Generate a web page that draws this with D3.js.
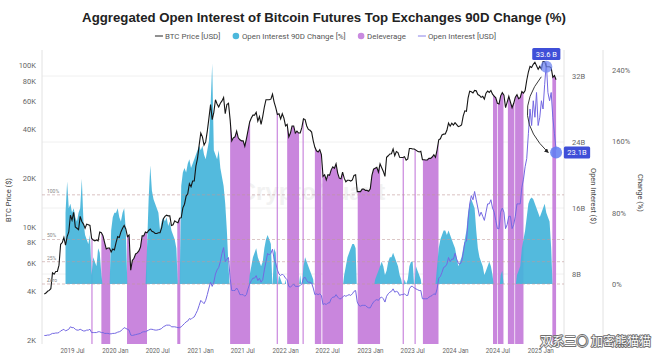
<!DOCTYPE html>
<html><head><meta charset="utf-8">
<script src="https://cdn.jsdelivr.net/npm/d3@7"></script>
<style>body{margin:0;background:#fff}svg{display:block}</style>
</head><body><svg id="c" width="660" height="359"></svg>
<script>
// ---------------- DATA ----------------
const startWeek = "2019-03-04"; // weekly series start (Mondays)
// BTC price, thousands USD, weekly
const btcPriceK = [
 // 2019 Mar..Dec
 3.85,3.9,4.0,4.05, 4.15,5.2,5.1,5.3,5.3, 5.8,7.8,8.0,8.6, 7.7,8.7,9.3,11.8, 11.0,12.3,10.0,9.8,9.6,
 11.6,10.8,10.4,9.8, 10.4,10.3,10.2,8.5,8.3, 8.2,8.3,8.2,9.3, 9.2,8.8,8.0,7.3, 7.4,7.4,7.0,7.3,7.2,
 // 2020
 8.0,8.7,8.6,9.3, 9.8,10.2,9.7,8.7, 8.9,5.4,6.2,6.4,6.8, 6.9,7.1,7.5,8.8, 8.8,9.3,9.2,9.5, 9.7,9.4,9.3,9.1,9.1,
 9.2,9.2,9.9,11.2, 11.6,11.8,11.7,11.7,10.2, 10.3,10.9,10.7,10.6, 11.3,11.4,13.1,13.8, 15.5,16.0,18.5,17.7,19.2, 19.2,23.7,26.5,32.0,
 // 2021
 38,36,32,33.5, 39,47,57,46, 51,61,57.5,55,58, 60,63,50,57, 58,46,34,35.5,36, 39,35.5,34.5,34,
 34,31.5,35,39.5, 44.5,47,49,49,51, 45,48,43,48, 55,61,61,61, 61.5,66,59,54.5,49.5, 50,46.5,50,47,
 // 2022
 42,43,36,38,42, 42,38,39,38, 38,41,46.5,46, 42,40,39.5,38.5, 34,31,29.5,29,30, 28,20.5,21,19.5,
 21,20.8,22.5,23.5, 23,24.5,21.5,20,19.8, 21.8,20,19,19.4, 19.4,19.2,19.5,20.8,21, 16.5,16.5,16.5,17.1, 17.1,16.8,16.8,16.6,
 // 2023
 17.2,20.8,22.7,23,23.3, 21.8,24.5,23.2,22, 20.5,26.9,27.5,28.2, 28.3,30.3,27.5,29.2, 28.8,26.9,26.8,26.8,27.1, 25.8,26.3,30.5,30.5,
 30.3,30.3,29.8,29.3,29, 29.3,26,26,25.9, 25.9,26.5,26.5,27, 27.9,26.9,29.9,34.5,35, 37,37.4,37.5,39.5, 43.8,41.9,43.7,42.5,
 // 2024
 44,42.8,41.6,42,42.6, 48.3,52.1,51.7,62.4, 68.9,68.4,67.2,69.6, 69.3,65.7,64.9,63.1,64, 61.5,67,69,67.7, 69.6,66,64.3,62.7,
 58,57.5,64.5,67.5,65, 54.5,59,64,59, 54.5,58,63.3,65.6,62, 62.8,68.5,67,69.5, 80.5,90.5,98,96.5, 101,104,99,94,98,
 // 2025
 94.5,105,105,97.5, 97.5,97.5,96,84, 86,81
];
// Open interest 90D change, %, weekly (null = not yet available)
const oiChangePct = [
 // 2019
 null,null,null,null, null,null,null,null,null, null,null,null,null, 80,115,85,90, 80,85,75,70,80,
 85,118,70,55, 50,45,55,10,30, 25,20,40,35, 10,-5,-10,-5, -5,-5,60,75,80,
 // 2020
 80,85,75,70, 80,85,60,-5, -10,-40,-45,-40,-35, -30,-25,-15,-10, -5,-5,40,95, 133,105,95,90,85,
 80,60,70,75, 70,75,65,70,60, 55,50,40,-5, -5,110,125,130, 125,135,140,130,135, 140,145,150,155,
 // 2021
 150,155,145,140, 150,160,200,247, 150,145,140,150,130, 120,110,90,60, 20,-10,-30,-40,-40, -35,-30,-30,-25,
 -20,-15,-5,-10, 10,20,30,35,40, 30,25,20,25, 40,50,55,50, 45,-5,40,35,-5, 10,5,0,-5,
 // 2022
 5,-10,-20,-15,-10, -10,-5,-5,-5, 10,-5,20,30, 25,20,15,10, 5,-20,-25,-20,-15, -10,-30,-35,-30,
 -25,-20,-15,-10, -10,-5,-5,-5,-5, -5,10,20,30, 35,40,45,45,40, -20,-30,-35,-30, -30,-25,-20,-15,
 // 2023
 -15,-10,-5,5,10, 15,20,25,20, 10,15,25,30, 30,35,30,25, 20,10,5,-5,5, 0,5,20,25,
 25,-5,20,15,10, 5,-10,-20,-20, -15,-10,-5,-5, -5,0,20,40,50, 55,60,60,55, 60,55,50,45,
 // 2024
 40,30,20,25,30, 40,50,60,80, 90,95,90,85, 60,40,30,25,20, 10,15,20,25, 20,10,-5,-10,
 -15,-10,10,15,-5, -10,-15,-5,-10, -15,-10,-5,10,15, 20,40,50,60, 75,90,95,97, 95,90,85,80,75,
 // 2025
 80,85,90,80, 75,70,40,-10, -25,-35
];
// Open interest, billions USD, weekly
const openInterestB = [
 // 2019
 0.55,0.55,0.6,0.6, 0.7,0.8,0.8,0.85,0.85, 0.9,1.1,1.2,1.3, 1.1,1.2,1.3,1.6, 1.5,1.5,1.3,1.2,1.2,
 1.3,1.2,1.1,1.1, 1.2,1.2,1.3,0.9,0.9, 0.9,0.9,1.0,1.0, 0.9,0.9,0.8,0.8, 0.8,0.75,0.75,0.8,0.8,
 // 2020
 0.85,0.95,1.0,1.1, 1.3,1.5,1.4,1.3, 1.2,0.6,0.55,0.6,0.65, 0.7,0.75,0.8,0.95, 1.0,1.0,1.1,1.2, 1.3,1.3,1.25,1.2,1.2,
 1.25,1.3,1.4,1.6, 1.7,1.8,1.8,1.8,1.6, 1.6,1.6,1.55,1.5, 1.5,1.6,1.8,2.0, 2.2,2.3,2.6,2.5,2.7, 2.8,3.2,3.6,4.2,
 // 2021
 4.8,4.6,4.4,4.8, 5.5,6.3,7.0,6.5, 7.0,8.0,8.5,8.8,9.5, 10.5,11.2,9.5,9.8, 10,7.5,6.0,6.0,6.0, 6.3,6.0,5.5,5.5,
 5.5,5.3,5.5,6.2, 6.8,7.2,7.5,7.5,7.8, 7.2,7.5,7.0,7.3, 8.5,9.5,10.5,10.3, 10.5,11.0,9.8,9.3,8.5, 8.0,7.8,8.0,7.8,
 // 2022
 7.5,7.3,6.5,6.4,6.6, 6.8,6.5,6.5,6.5, 6.6,6.8,7.5,7.6, 7.2,7.0,7.0,6.9, 6.3,5.5,5.6,5.5,5.6, 5.4,4.3,4.4,4.3,
 4.5,4.5,5.0,5.2, 5.2,5.5,5.2,5.0,5.0, 5.2,5.4,5.3,5.4, 5.5,5.4,5.6,5.9,6.0, 4.6,4.2,4.1,4.2, 4.2,4.2,4.0,3.9,
 // 2023
 3.9,4.3,4.6,4.8,4.9, 4.8,5.1,5.2,5.0, 4.6,5.3,5.6,5.8, 5.9,6.2,5.8,5.9, 5.8,5.4,5.5,5.5,5.6, 5.4,5.4,6.2,6.5,
 6.5,6.3,6.2,6.1,6.0, 6.0,5.0,5.0,5.0, 5.0,5.2,5.3,5.4, 5.6,5.5,6.2,7.5,7.7, 8.2,8.8,8.9,9.2, 10.0,9.5,9.8,9.8,
 // 2024
 10.5,9.8,9.3,9.2,9.5, 10.5,11.8,12.0,14.5, 16.5,17.5,17.0,18.0, 17.0,16.0,15.0,15.5,15.0, 14.5,15.5,16.5,16.5, 17.0,16.0,15.5,14.5,
 13.5,13.5,15.5,16.0,15.5, 13.5,14.0,15.0,15.0, 13.5,14.0,15.0,16.5,16.5, 16.5,18.5,19.5,21.0, 22,25,28,26, 29,27,30,26,27,
 // 2025
 29,28,31,33.6, 30,29,30,27, 25,23.1
];
// Deleverage periods [start, end]
const deleveragePeriods = [
 ["2019-09-22","2019-09-27"],["2019-11-04","2019-12-12"],["2020-02-22","2020-05-18"],["2020-09-25","2020-10-08"],
 ["2021-05-10","2021-08-04"],["2021-11-26","2021-11-30"],["2022-01-10","2022-03-02"],["2022-03-17","2022-03-20"],
 ["2022-05-09","2022-06-06"],["2022-06-10","2022-09-07"],["2022-11-09","2023-02-13"],["2023-05-21","2023-05-24"],
 ["2023-07-11","2023-07-14"],["2023-08-16","2023-10-22"],["2024-06-12","2024-06-30"],["2024-07-03","2024-07-27"],
 ["2024-08-15","2024-09-12"],["2024-09-15","2024-10-21"],["2025-02-22","2025-04-01"]
];
const priceTicks = [2000,4000,6000,8000,10000,20000,40000,60000,80000,100000];
const oiTicks = [8,16,24,32];
const changeTicks = [0,80,160,240];
const refLevels = [100,50,25,0];
const refLabels = ["100%","50%","25%","Zero"];
const xTickDates = ["2019-07-01","2020-01-01","2020-07-01","2021-01-01","2021-07-01","2022-01-01",
 "2022-07-01","2023-01-01","2023-07-01","2024-01-01","2024-07-01","2025-01-01"];
const legendItems = [
 {label:"BTC Price [USD]", kind:"line", color:"#222"},
 {label:"Open Interest 90D Change [%]", kind:"dot", color:"#4cb8dc"},
 {label:"Deleverage", kind:"dot", color:"#c98ae0"},
 {label:"Open Interest [USD]", kind:"line", color:"#8a82e8"}
];
const titleText = "Aggregated Open Interest of Bitcoin Futures Top Exchanges 90D Change (%)";
const sourceMark = "双系三◉ 加密熊猫猫";

// ---------------- CHART ----------------
const parse = d3.timeParse("%Y-%m-%d");
const svg = d3.select("#c");
const L = 42, R = 564, T = 50, B = 344;
const FONT = "Roboto, 'Liberation Sans', sans-serif";

const start = parse(startWeek);
const n = Math.min(btcPriceK.length, oiChangePct.length, openInterestB.length);
const data = d3.range(n).map(i => ({
  date: d3.timeDay.offset(start, i*7),
  price: btcPriceK[i]*1000,
  chg: oiChangePct[i],
  oi: openInterestB[i]
}));

const x = d3.scaleTime().domain([parse("2019-02-22"), parse("2025-04-13")]).range([L, R]);
const yP = d3.scaleLog().domain([2000,100000]).range([340,65]);
const yOI = d3.scaleLinear().domain([0,32]).range([340,76]);
const yC = d3.scaleLinear().domain([0,240]).range([284,70]);

const defs = svg.append("defs");
defs.append("clipPath").attr("id","plot").append("rect").attr("x",L).attr("y",T).attr("width",R-L).attr("height",B-T);
defs.append("clipPath").attr("id","above0").append("rect").attr("x",L).attr("y",T).attr("width",R-L).attr("height",yC(0)-T);
const dcp = defs.append("clipPath").attr("id","delev");
deleveragePeriods.forEach(([a,b]) => {
  const x0 = x(parse(a)), x1 = x(parse(b));
  dcp.append("rect").attr("x",x0).attr("y",T).attr("width",Math.max(1.2,x1-x0)).attr("height",B-T);
});
const mk = defs.append("marker").attr("id","arr").attr("viewBox","0 0 10 10").attr("refX",8).attr("refY",5)
  .attr("markerWidth",5).attr("markerHeight",5).attr("orient","auto");
mk.append("path").attr("d","M0,0L10,5L0,10z").attr("fill","#222");

// title
const title = svg.append("text").attr("x",324).attr("y",22).attr("text-anchor","middle")
  .attr("font-family","'Liberation Sans', Arial, sans-serif").attr("font-weight","bold")
  .attr("font-size",13).attr("fill","#222").text(titleText);
const tw = title.node().getComputedTextLength();
title.attr("font-size", 13*484/tw);

// legend
const lg = svg.append("g").attr("font-family",FONT).attr("font-size",7.9).attr("fill","#555");
let cx = 0;
legendItems.forEach((it,i) => {
  const g = lg.append("g").attr("transform",`translate(${cx},0)`);
  if (it.kind==="line") g.append("line").attr("x1",0).attr("x2",8).attr("y1",0).attr("y2",0).attr("stroke",it.color).attr("stroke-width",1);
  else g.append("circle").attr("cx",3.5).attr("cy",0).attr("r",3.3).attr("fill",it.color);
  const t = g.append("text").attr("x",it.kind==="line"?10:9.5).attr("y",2.7).text(it.label);
  const w = (it.kind==="line"?10:9.5) + t.node().getComputedTextLength();
  cx += w + 12;
});
const lw = cx - 12;
lg.attr("transform",`translate(${325.5-lw/2},36)`);

// gridlines
const grid = svg.append("g");
oiTicks.forEach(v => grid.append("line").attr("x1",L).attr("x2",R).attr("y1",yOI(v)).attr("y2",yOI(v))
  .attr("stroke","#ececec").attr("stroke-width",0.8));

// axis frame lines
svg.append("line").attr("x1",L).attr("x2",L).attr("y1",T).attr("y2",B).attr("stroke","#e2e2e2");
svg.append("line").attr("x1",R).attr("x2",R).attr("y1",T).attr("y2",B).attr("stroke","#e2e2e2");
svg.append("line").attr("x1",603).attr("x2",603).attr("y1",T).attr("y2",B).attr("stroke","#e2e2e2");

// watermark
svg.append("text").attr("x",312).attr("y",200).attr("text-anchor","middle").attr("font-family","'Liberation Sans', sans-serif")
  .attr("font-weight","bold").attr("font-size",24).attr("fill","#999").attr("opacity",0.12).text("CryptoQuant");

const plot = svg.append("g").attr("clip-path","url(#plot)");

// deleverage (area under price line within deleverage periods)
plot.append("g").attr("clip-path","url(#delev)").append("path")
  .datum(data)
  .attr("d", d3.area().x(d=>x(d.date)).y0(B).y1(d=>yP(d.price)))
  .attr("fill","#c67fdb").attr("opacity",0.95);

// OI 90D change area (positive part)
plot.append("g").attr("clip-path","url(#above0)").append("path")
  .datum(data)
  .attr("d", d3.area().defined(d=>d.chg!==null).x(d=>x(d.date)).y0(yC(0)).y1(d=>yC(d.chg)))
  .attr("fill","#44b4da").attr("opacity",0.92);

// reference dashed lines
refLevels.forEach((v,i) => {
  plot.append("line").attr("x1",L).attr("x2",R).attr("y1",yC(v)).attr("y2",yC(v))
    .attr("stroke","#c29a9a").attr("stroke-width",0.7).attr("stroke-dasharray","3,2").attr("opacity",0.85);
  svg.append("text").attr("x",L+5).attr("y",yC(v)-2).attr("font-family",FONT).attr("font-size",5)
    .attr("fill","#888").text(refLabels[i]);
});

// OI line
plot.append("path").datum(data)
  .attr("d", d3.line().x(d=>x(d.date)).y(d=>yOI(d.oi)))
  .attr("fill","none").attr("stroke","#7468e2").attr("stroke-width",1);

// price line
plot.append("path").datum(data)
  .attr("d", d3.line().x(d=>x(d.date)).y(d=>yP(d.price)))
  .attr("fill","none").attr("stroke","#151515").attr("stroke-width",1.1);

// axes
const axStyle = g => { g.select(".domain").remove(); g.selectAll("text").attr("font-family",FONT).attr("fill","#666"); };
svg.append("g").attr("transform",`translate(${L},0)`)
  .call(d3.axisLeft(yP).tickValues(priceTicks).tickFormat(d=>d/1000+"K").tickSize(0).tickPadding(6))
  .attr("font-size",7.5).call(axStyle);
svg.append("g").attr("transform",`translate(${R},0)`)
  .call(d3.axisRight(yOI).tickValues(oiTicks).tickFormat(d=>d+"B").tickSize(0).tickPadding(8))
  .attr("font-size",7.5).call(axStyle);
svg.append("g").attr("transform",`translate(603,0)`)
  .call(d3.axisRight(yC).tickValues(changeTicks).tickFormat(d=>d+"%").tickSize(0).tickPadding(9))
  .attr("font-size",7.5).call(axStyle);
svg.append("g").attr("transform",`translate(0,${B})`)
  .call(d3.axisBottom(x).tickValues(xTickDates.map(parse)).tickFormat(d3.timeFormat("%Y %b")).tickSize(0).tickPadding(5))
  .attr("font-size",6.3).call(axStyle);

// axis titles
svg.append("text").attr("transform","translate(11,200) rotate(-90)").attr("text-anchor","middle")
  .attr("font-family",FONT).attr("font-size",7.5).attr("fill","#444").text("BTC Price ($)");
svg.append("text").attr("transform","translate(591,196) rotate(90)").attr("text-anchor","middle")
  .attr("font-family",FONT).attr("font-size",7.5).attr("fill","#444").text("Open Interest ($)");
svg.append("text").attr("transform","translate(638,193) rotate(90)").attr("text-anchor","middle")
  .attr("font-family",FONT).attr("font-size",7.5).attr("fill","#444").text("Change (%)");

// annotations: peak and last OI
const peak = data.reduce((a,b)=> b.oi>a.oi?b:a);
const last = data[n-1];
const px = x(peak.date), py = yOI(peak.oi), lx = x(last.date), ly = yOI(last.oi);
svg.append("circle").attr("cx",px).attr("cy",py+4).attr("r",6).attr("fill","#6f86f0").attr("opacity",0.75);
svg.append("circle").attr("cx",lx).attr("cy",ly+3).attr("r",6).attr("fill","#5f7cf2").attr("opacity",0.85);
svg.append("path").attr("d",`M${px-5},${py+14} Q${px-36},${(py+ly)/2+10} ${lx-8},${ly+3}`)
  .attr("fill","none").attr("stroke","#222").attr("stroke-width",0.9).attr("marker-end","url(#arr)");
function badge(cxp, cyp, txt){
  const g = svg.append("g");
  const t = g.append("text").attr("x",cxp).attr("y",cyp+2.6).attr("text-anchor","middle").attr("font-family",FONT)
    .attr("font-size",7.5).attr("fill","#fff").text(txt);
  const w = t.node().getComputedTextLength()+7;
  g.insert("rect","text").attr("x",cxp-w/2).attr("y",cyp-6).attr("width",w).attr("height",12).attr("rx",1.5).attr("fill","#3f4fd8");
}
badge(px, 54, peak.oi.toFixed(1)+" B");
badge(R+13, ly+3, last.oi.toFixed(1)+"B");

// source watermark (bottom right)
svg.append("text").attr("x",651).attr("y",346).attr("text-anchor","end")
  .attr("font-family","'Noto Sans CJK SC', sans-serif").attr("font-size",12)
  .attr("fill","#fff").attr("stroke","#6f6f6f").attr("stroke-width",1.8).attr("paint-order","stroke")
  .attr("stroke-linejoin","round").text(sourceMark);
</script>
</body></html>
